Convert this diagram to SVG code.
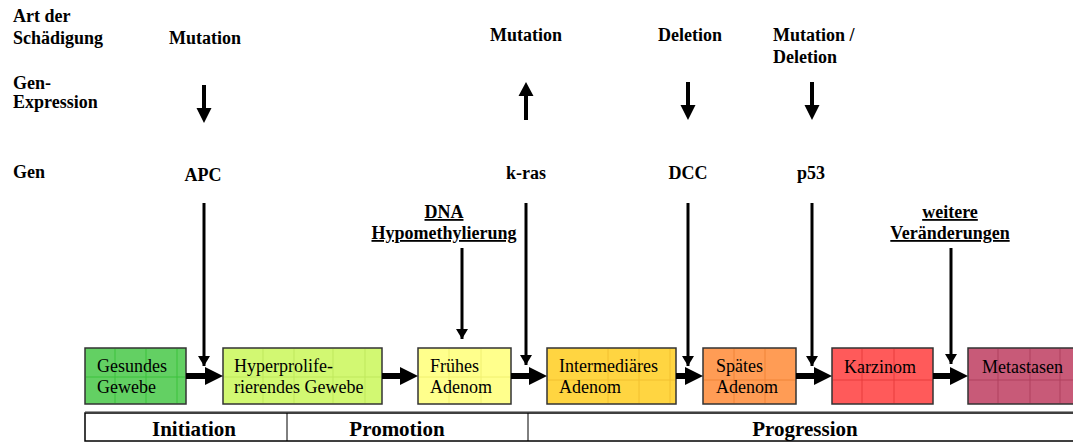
<svg xmlns="http://www.w3.org/2000/svg" width="1073" height="442" viewBox="0 0 1073 442">
<style>
.h{font-family:"Liberation Serif","Times New Roman",serif;font-weight:bold;font-size:18px;fill:#000}
.u{text-decoration:underline}
.m{text-anchor:middle}
.b{font-family:"Liberation Serif","Times New Roman",serif;font-size:18px;fill:#000}
.p{font-family:"Liberation Serif","Times New Roman",serif;font-weight:bold;font-size:21px;fill:#000;text-anchor:middle}
.box{stroke:#333;stroke-width:1.5}
.grid{stroke-width:1;fill:none}
.ln{stroke:#000;stroke-width:3;fill:none}
.th{stroke:#000;stroke-width:6;fill:none}
</style>
<defs>
<marker id="ah" viewBox="0 0 10 12" refX="10" refY="6" markerWidth="10" markerHeight="12" markerUnits="userSpaceOnUse" orient="auto"><path d="M0,0 L10,6 L0,12 Z" fill="#000"/></marker>
</defs>
<rect width="1073" height="442" fill="#fff"/>

<g id="labels">
<text class="h" x="13" y="22">Art der</text>
<text class="h" x="13" y="44">Schädigung</text>
<text class="h" x="13" y="89">Gen-</text>
<text class="h" x="13" y="108">Expression</text>
<text class="h" x="13" y="178">Gen</text>
</g>

<g id="apc">
<text class="h m" x="205" y="44">Mutation</text>
<text class="h m" x="203" y="181">APC</text>
</g>
<g id="kras">
<text class="h m" x="526" y="41">Mutation</text>
<text class="h m" x="526" y="179">k-ras</text>
</g>
<g id="dcc">
<text class="h m" x="690" y="41">Deletion</text>
<text class="h m" x="688" y="179">DCC</text>
</g>
<g id="p53">
<text class="h" x="773" y="41">Mutation /</text>
<text class="h" x="773" y="63">Deletion</text>
<text class="h m" x="811" y="179">p53</text>
</g>
<g id="dna">
<text class="h m u" x="444" y="218">DNA</text>
<text class="h m u" x="444" y="239">Hypomethylierung</text>
</g>
<g id="weitere">
<text class="h m u" x="950" y="218">weitere</text>
<text class="h m u" x="950" y="239">Veränderungen</text>
</g>

<g id="expression-arrows" fill="#000">
<path d="M202,85 H206 V108 H211.5 L204,123 L196.5,108 H202 Z"/>
<path d="M524,120 H528 V96 H533.5 L526,82 L518.5,96 H524 Z"/>
<path d="M686,82 H690 V105 H695.5 L688,120 L680.5,105 H686 Z"/>
<path d="M810,82 H814 V105 H819.5 L812,120 L804.5,105 H810 Z"/>
</g>

<g id="n1">
<rect class="box" x="85" y="348" width="101" height="56" fill="#63d063"/>
<path class="grid" stroke="#3cc23c" d="M115,349 V403 M146,349 V403 M177,349 V403 M86,377 H185"/>
<text class="b" x="97" y="372">Gesundes</text>
<text class="b" x="97" y="393">Gewebe</text>
</g>
<g id="n2">
<rect class="box" x="223" y="348" width="159" height="56" fill="#d2f872"/>
<path class="grid" stroke="#bfe85c" d="M263,349 V403 M294,349 V403 M333,349 V403 M365,349 V403 M224,377 H381"/>
<text class="b" x="234" y="372">Hyperprolife-</text>
<text class="b" x="234" y="393">rierendes Gewebe</text>
</g>
<g id="n3">
<rect class="box" x="418" y="348" width="93" height="56" fill="#ffff8c"/>
<path class="grid" stroke="#f0f070" d="M449,349 V403 M481,349 V403 M419,377 H510"/>
<text class="b" x="430" y="372">Frühes</text>
<text class="b" x="430" y="393">Adenom</text>
</g>
<g id="n4">
<rect class="box" x="547" y="348" width="129" height="56" fill="#ffd541"/>
<path class="grid" stroke="#f2c030" d="M608,349 V403 M639,349 V403 M670,349 V403 M548,380 H675"/>
<text class="b" x="559" y="372">Intermediäres</text>
<text class="b" x="559" y="393">Adenom</text>
</g>
<g id="n5">
<rect class="box" x="703" y="348" width="93" height="56" fill="#ff9c55"/>
<path class="grid" stroke="#f08438" d="M734,349 V403 M765,349 V403 M704,380 H795"/>
<text class="b" x="716" y="372">Spätes</text>
<text class="b" x="716" y="393">Adenom</text>
</g>
<g id="n6">
<rect class="box" x="832" y="348" width="101" height="56" fill="#ff5a5a"/>
<path class="grid" stroke="#e83c3c" d="M862,349 V403 M894,349 V403 M833,380 H932"/>
<text class="b" x="844" y="373">Karzinom</text>
</g>
<g id="n7">
<rect class="box" x="968" y="348" width="106" height="56" fill="#c85a78"/>
<path class="grid" stroke="#b0405e" d="M998,349 V403 M1030,349 V403 M1060,349 V403 M969,380 H1073"/>
<text class="b" x="982" y="373">Metastasen</text>
</g>

<g id="connectors">
<line class="ln" x1="204" y1="203" x2="204" y2="366" marker-end="url(#ah)"/>
<line class="ln" x1="526" y1="203" x2="526" y2="365" marker-end="url(#ah)"/>
<line class="ln" x1="688" y1="203" x2="688" y2="366" marker-end="url(#ah)"/>
<line class="ln" x1="812" y1="203" x2="812" y2="366" marker-end="url(#ah)"/>
<line class="ln" x1="462" y1="248" x2="462" y2="339" marker-end="url(#ah)"/>
<line class="ln" x1="951" y1="248" x2="951" y2="364" marker-end="url(#ah)"/>
<g fill="#000">
<path d="M186,373 H205 V367 L223,376 L205,385 V379 H186 Z"/>
<path d="M382,373 H400 V367 L418,376 L400,385 V379 H382 Z"/>
<path d="M511,373 H529 V367 L547,376 L529,385 V379 H511 Z"/>
<path d="M676,373 H685 V367 L703,376 L685,385 V379 H676 Z"/>
<path d="M796,373 H814 V367 L832,376 L814,385 V379 H796 Z"/>
<path d="M933,373 H950 V367 L968,376 L950,385 V379 H933 Z"/>
</g>
</g>

<g id="phases">
<rect x="85" y="413" width="990" height="28" fill="#fff" stroke="#000" stroke-width="1.5"/>
<line x1="85" y1="411.5" x2="1073" y2="411.5" stroke="#999" stroke-width="1"/>
<line x1="287" y1="413" x2="287" y2="441" stroke="#000" stroke-width="1"/>
<line x1="528" y1="413" x2="528" y2="441" stroke="#000" stroke-width="1"/>
<text class="p" x="194" y="436">Initiation</text>
<text class="p" x="397" y="436">Promotion</text>
<text class="p" x="805" y="436">Progression</text>
</g>
</svg>
